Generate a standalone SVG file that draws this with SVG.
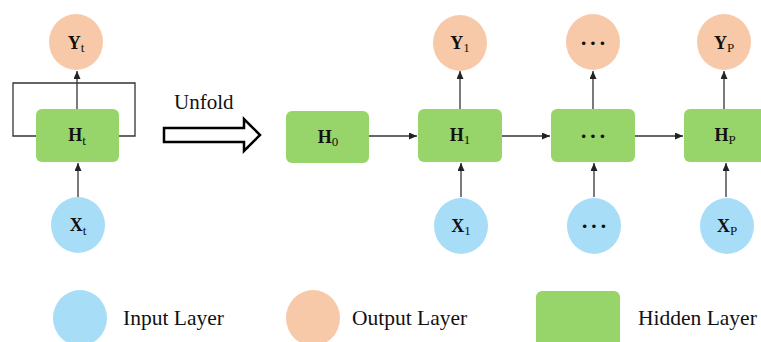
<svg xmlns="http://www.w3.org/2000/svg" width="761" height="342" viewBox="0 0 761 342">
<defs>
<marker id="ah" markerWidth="9" markerHeight="8" refX="8" refY="3.5" orient="auto" markerUnits="userSpaceOnUse"><path d="M0,0 L8,3.5 L0,7 z" fill="#222"/></marker>
<style>
.out{fill:#F8C9A9}
.inp{fill:#A8DDF8}
.hid{fill:#97D46A}
.lbl{font-family:"Liberation Serif",serif;font-size:18px;fill:#111;text-anchor:middle}
.b{font-weight:bold}
.sub{font-size:13px}
.dots{font-family:"Liberation Serif",serif;font-size:22px;font-weight:bold;fill:#111;text-anchor:middle;letter-spacing:2px}
.leg{font-family:"Liberation Serif",serif;font-size:21.5px;fill:#111}
.con{stroke:#333;stroke-width:1.3;fill:none}
.arr{marker-end:url(#ah)}
</style>
</defs>
<rect width="761" height="342" fill="#fff"/>
<g id="connectors">
<polyline class="con" points="36,136 13,136 13,83 135,83 135,136 119,136"/>
<line class="con arr" x1="77" y1="109" x2="77" y2="71"/>
<line class="con arr" x1="78" y1="197" x2="78" y2="163"/>
<line class="con arr" x1="369" y1="136" x2="417" y2="136"/>
<line class="con arr" x1="460" y1="109" x2="460" y2="71"/>
<line class="con arr" x1="461" y1="197" x2="461" y2="163"/>
<line class="con arr" x1="502" y1="136" x2="550" y2="136"/>
<line class="con arr" x1="593" y1="109" x2="593" y2="71"/>
<line class="con arr" x1="594" y1="197" x2="594" y2="163"/>
<line class="con arr" x1="635" y1="136" x2="683" y2="136"/>
<line class="con arr" x1="724" y1="109" x2="724" y2="71"/>
<line class="con arr" x1="726" y1="197" x2="726" y2="163"/>
</g>
<g id="unfold">
<text x="174" y="109" font-family="Liberation Serif, serif" font-size="21" fill="#111">Unfold</text>
<polygon points="164,128 244,128 244,119 260,135 244,151 244,142 164,142" fill="#fff" stroke="#000" stroke-width="2.5" stroke-linejoin="miter"/>
</g>
<g id="Yt"><ellipse class="out" cx="76" cy="42" rx="27" ry="28"/><text class="lbl" x="76" y="49"><tspan class="b">Y</tspan><tspan class="sub" dy="3">t</tspan></text></g>
<g id="Ht"><rect class="hid" x="36" y="109" width="83" height="53" rx="6"/><text class="lbl" x="77" y="141"><tspan class="b">H</tspan><tspan class="sub" dy="4">t</tspan></text></g>
<g id="Xt"><ellipse class="inp" cx="78" cy="225" rx="27" ry="28"/><text class="lbl" x="78" y="231"><tspan class="b">X</tspan><tspan class="sub" dy="4">t</tspan></text></g>
<g id="H0"><rect class="hid" x="286" y="111" width="83" height="52" rx="6"/><text class="lbl" x="328" y="143"><tspan class="b">H</tspan><tspan class="sub" dy="3">0</tspan></text></g>
<g id="H1"><rect class="hid" x="418" y="109" width="84" height="53" rx="6"/><text class="lbl" x="460" y="141"><tspan class="b">H</tspan><tspan class="sub" dy="3">1</tspan></text></g>
<g id="Y1"><ellipse class="out" cx="460" cy="43" rx="27" ry="28"/><text class="lbl" x="460" y="49"><tspan class="b">Y</tspan><tspan class="sub" dy="3">1</tspan></text></g>
<g id="X1"><ellipse class="inp" cx="461" cy="226" rx="27" ry="28"/><text class="lbl" x="461" y="232"><tspan class="b">X</tspan><tspan class="sub" dy="3">1</tspan></text></g>
<g id="Hd"><rect class="hid" x="551" y="109" width="84" height="53" rx="6"/><text class="dots" x="594" y="143">···</text></g>
<g id="Yd"><ellipse class="out" cx="593" cy="42" rx="27" ry="28"/><text class="dots" x="594" y="50">···</text></g>
<g id="Xd"><ellipse class="inp" cx="594" cy="226" rx="27" ry="28"/><text class="dots" x="595" y="233">···</text></g>
<g id="HP"><rect class="hid" x="684" y="109" width="84" height="53" rx="6"/><text class="lbl" x="725" y="141"><tspan class="b">H</tspan><tspan class="sub" dy="3">P</tspan></text></g>
<g id="YP"><ellipse class="out" cx="724" cy="42" rx="27" ry="28"/><text class="lbl" x="724" y="49"><tspan class="b">Y</tspan><tspan class="sub" dy="3">P</tspan></text></g>
<g id="XP"><ellipse class="inp" cx="727" cy="226" rx="27" ry="28"/><text class="lbl" x="727" y="232"><tspan class="b">X</tspan><tspan class="sub" dy="3">P</tspan></text></g>
<g id="legend">
<ellipse class="inp" cx="80" cy="318" rx="27" ry="28"/>
<text class="leg" x="123" y="325">Input Layer</text>
<ellipse class="out" cx="313" cy="318" rx="27" ry="28"/>
<text class="leg" x="352" y="325">Output Layer</text>
<rect class="hid" x="536" y="291" width="84" height="62" rx="6"/>
<text class="leg" x="638" y="325">Hidden Layer</text>
</g>
</svg>
